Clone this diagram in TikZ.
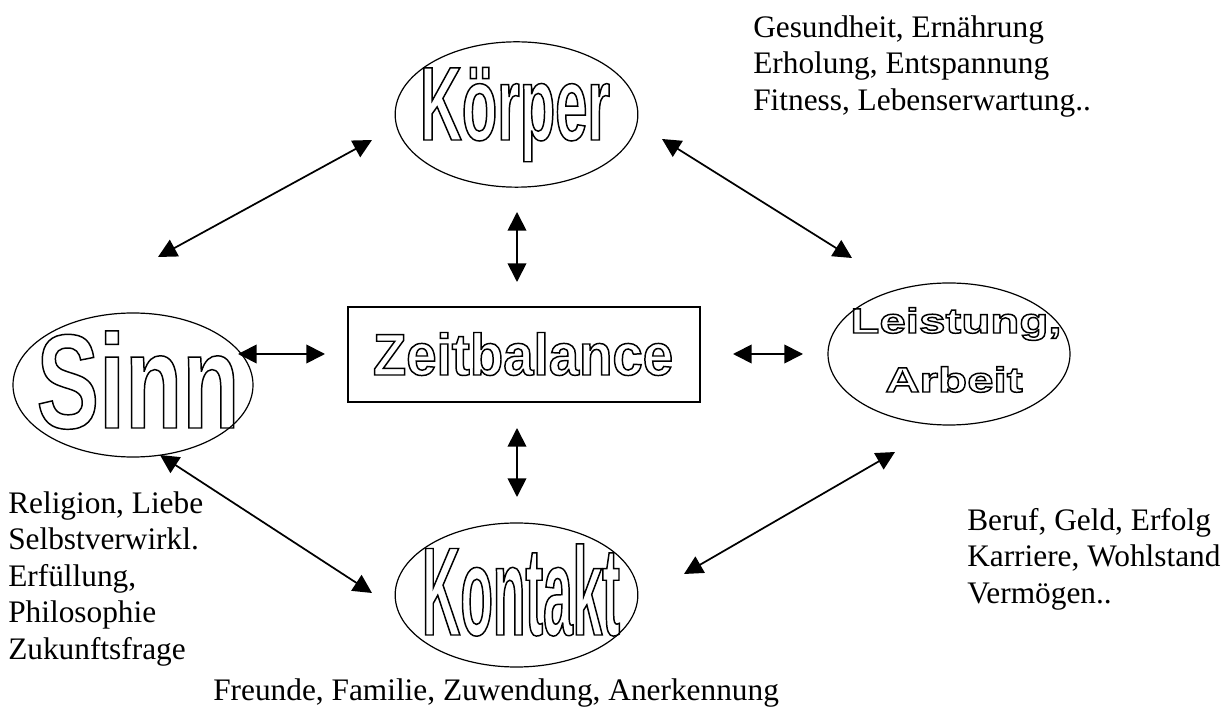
\documentclass[tikz,border=0pt]{standalone}
\usepackage{fontspec}
\setmainfont{Liberation Serif}
\newfontfamily\fKoerper[FakeStretch=0.553]{Liberation Sans}
\newfontfamily\fKontakt[FakeStretch=0.423]{Liberation Sans}
\newfontfamily\fSinn[FakeStretch=0.698]{Liberation Sans}
\newfontfamily\fZeit[FakeStretch=0.93]{Liberation Sans}
\newfontfamily\fLeist[FakeStretch=1.36]{Liberation Sans}
\usetikzlibrary{shapes.geometric,arrows.meta}
\newcommand\outl[1]{\special{pdf:literal direct 1 Tr 1.1 w}#1\special{pdf:literal direct 0 Tr 0.3985 w}}
\begin{document}
\begin{tikzpicture}[x=0.75pt,y=-0.75pt,
  ell/.style={ellipse, draw, line width=0.9pt, inner sep=0pt},
  boxnode/.style={rectangle, draw, line width=1.2pt, inner sep=0pt},
  lab/.style={font=\fontsize{23.5}{27.4}\selectfont, inner sep=0pt, align=left, anchor=north west},
  big/.style={inner sep=0pt, anchor=base},
  conn/.style={{Triangle[length=14pt,width=14pt]}-{Triangle[length=14pt,width=14pt]}, line width=1.3pt}]
\useasboundingbox (0,0) rectangle (1232,712);

% shapes
\node[ell, minimum width=182pt, minimum height=109pt] (koerper) at (516.5,114.5) {};
\node[ell, minimum width=180pt, minimum height=108pt] (sinn) at (133,385) {};
\node[ell, minimum width=181.5pt, minimum height=106.5pt] (leistung) at (949,354) {};
\node[ell, minimum width=182pt, minimum height=108pt] (kontakt) at (516.5,595) {};
\node[boxnode, minimum width=264pt, minimum height=71pt] (zeit) at (524,354.5) {};

% outlined titles
\node[big] (tkoerper) at (515,140) {\fKoerper\bfseries\fontsize{78.6}{80}\selectfont\outl{Körper}};
\node[big] (tkontakt) at (521,635) {\fKontakt\bfseries\fontsize{94.3}{96}\selectfont\outl{Kontakt}};
\node[big] (tsinn) at (138,428) {\fSinn\bfseries\fontsize{100.6}{102}\selectfont\outl{Sinn}};
\node[big] (tzeit) at (523,375) {\fZeit\bfseries\fontsize{44}{46}\selectfont\outl{Zeitbalance}};
\node[big] (tleist) at (956,333) {\fLeist\bfseries\fontsize{26.2}{28}\selectfont\outl{Leistung,}};
\node[big] (tarbeit) at (954,392) {\fLeist\bfseries\fontsize{26.2}{28}\selectfont\outl{Arbeit}};

% labels
\node[lab] (lkoerper) at (753,15) {Gesundheit, Ernährung\\Erholung, Entspannung\\Fitness, Lebenserwartung..};
\node[lab] (lsinn) at (8,491) {Religion, Liebe\\Selbstverwirkl.\\Erfüllung,\\Philosophie\\Zukunftsfrage};
\node[lab] (lleist) at (967,508) {Beruf, Geld, Erfolg\\Karriere, Wohlstand\\Vermögen..};
\node[inner sep=0pt, anchor=base west, font=\fontsize{23.5}{27.4}\selectfont] (lkontakt) at (213,700) {Freunde, Familie, Zuwendung, Anerkennung};

% connector end points
\coordinate (a1s) at (158,257); \coordinate (a1e) at (372,140);
\coordinate (a2s) at (662,139); \coordinate (a2e) at (852,258);
\coordinate (a3s) at (517,212); \coordinate (a3e) at (517,282);
\coordinate (a4s) at (238,354); \coordinate (a4e) at (325,354);
\coordinate (a5s) at (733,354); \coordinate (a5e) at (803,354);
\coordinate (a6s) at (160,455); \coordinate (a6e) at (372,593);
\coordinate (a7s) at (517,428); \coordinate (a7e) at (517,497);
\coordinate (a8s) at (684,574); \coordinate (a8e) at (895,452);

\draw[conn] (a1s) -- (a1e);
\draw[conn] (a2s) -- (a2e);
\draw[conn] (a3s) -- (a3e);
\draw[conn] (a4s) -- (a4e);
\draw[conn] (a5s) -- (a5e);
\draw[conn] (a6s) -- (a6e);
\draw[conn] (a7s) -- (a7e);
\draw[conn] (a8s) -- (a8e);
\end{tikzpicture}
\end{document}
